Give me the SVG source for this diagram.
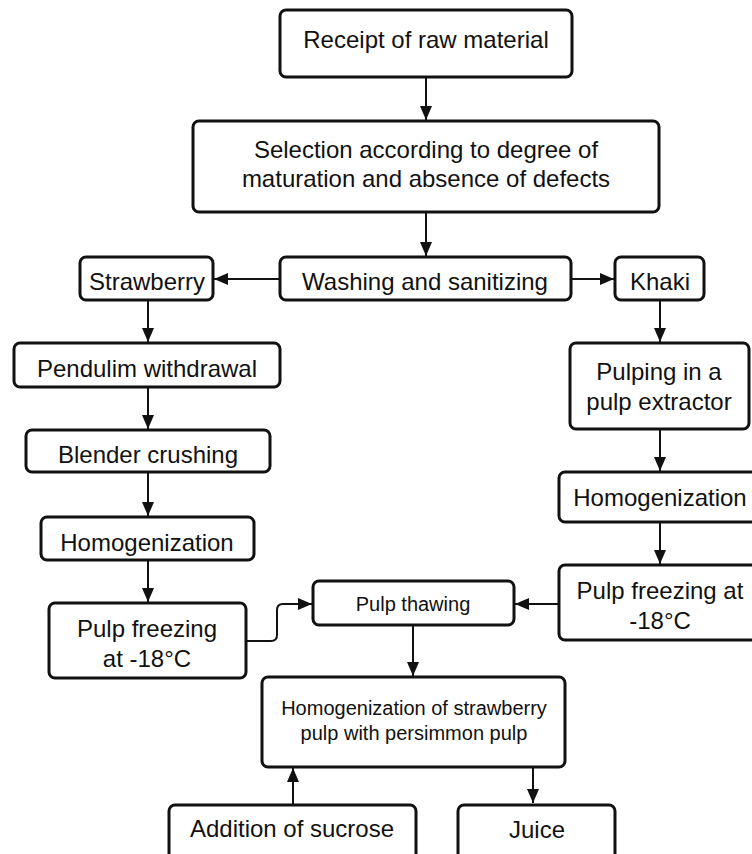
<svg xmlns="http://www.w3.org/2000/svg" width="752" height="854" viewBox="0 0 752 854">
<style>
.box{fill:#fff;stroke:#111;stroke-width:3}
.t{font-family:"Liberation Sans",Arial,sans-serif;font-size:24px;fill:#111;text-anchor:middle}
.s{font-size:20px}
.c{fill:none;stroke:#111;stroke-width:2}
</style>
<defs>
<marker id="ah" markerUnits="userSpaceOnUse" markerWidth="14" markerHeight="12" refX="14" refY="6" orient="auto">
<path d="M0,0 L14,6 L0,12 z" fill="#111"/>
</marker>
</defs>
<rect width="752" height="854" fill="#fff"/>
<g id="connectors">
<path class="c" d="M426,78 V120" marker-end="url(#ah)"/>
<path class="c" d="M426,212 V256" marker-end="url(#ah)"/>
<path class="c" d="M280,279 H214" marker-end="url(#ah)"/>
<path class="c" d="M571,279 H614" marker-end="url(#ah)"/>
<path class="c" d="M148,300 V342" marker-end="url(#ah)"/>
<path class="c" d="M148,387 V429" marker-end="url(#ah)"/>
<path class="c" d="M148,472 V516" marker-end="url(#ah)"/>
<path class="c" d="M148,560 V602" marker-end="url(#ah)"/>
<path class="c" d="M660,300 V342" marker-end="url(#ah)"/>
<path class="c" d="M660,429 V471" marker-end="url(#ah)"/>
<path class="c" d="M660,522 V564" marker-end="url(#ah)"/>
<path class="c" d="M559,604 H515" marker-end="url(#ah)"/>
<path class="c" d="M246,641 H271 Q277,641 277,635 V610 Q277,604 283,604 H312" marker-end="url(#ah)"/>
<path class="c" d="M413,626 V676" marker-end="url(#ah)"/>
<path class="c" d="M293,805 V768" marker-end="url(#ah)"/>
<path class="c" d="M533,767 V803" marker-end="url(#ah)"/>
</g>
<g id="receipt"><rect class="box" x="280" y="10" width="292" height="67" rx="6"/><text class="t" x="426" y="48">Receipt of raw material</text></g>
<g id="selection"><rect class="box" x="193" y="121" width="466" height="91" rx="6"/><text class="t" x="426" y="158">Selection according to degree of</text><text class="t" x="426" y="187">maturation and absence of defects</text></g>
<g id="washing"><rect class="box" x="280" y="257" width="291" height="43" rx="6"/><text class="t" x="425" y="290">Washing and sanitizing</text></g>
<g id="strawberry"><rect class="box" x="80" y="257" width="133" height="43" rx="6"/><text class="t" x="147" y="290">Strawberry</text></g>
<g id="khaki"><rect class="box" x="615" y="257" width="89" height="43" rx="6"/><text class="t" x="660" y="290">Khaki</text></g>
<g id="pendulim"><rect class="box" x="14" y="343" width="266" height="44" rx="6"/><text class="t" x="147" y="377">Pendulim withdrawal</text></g>
<g id="blender"><rect class="box" x="26" y="430" width="244" height="42" rx="6"/><text class="t" x="148" y="463">Blender crushing</text></g>
<g id="homog-left"><rect class="box" x="41" y="517" width="213" height="43" rx="6"/><text class="t" x="147" y="551">Homogenization</text></g>
<g id="freeze-left"><rect class="box" x="49" y="603" width="197" height="75" rx="6"/><text class="t" x="147" y="637">Pulp freezing</text><text class="t" x="147" y="667">at -18°C</text></g>
<g id="pulping"><rect class="box" x="570" y="343" width="179" height="86" rx="6"/><text class="t" x="659" y="380">Pulping in a</text><text class="t" x="659" y="410">pulp extractor</text></g>
<g id="homog-right"><rect class="box" x="559" y="472" width="204" height="50" rx="6"/><text class="t" x="660" y="506">Homogenization</text></g>
<g id="freeze-right"><rect class="box" x="559" y="565" width="204" height="75" rx="6"/><text class="t" x="660" y="599">Pulp freezing at</text><text class="t" x="660" y="629">-18°C</text></g>
<g id="thawing"><rect class="box" x="313" y="581" width="201" height="44" rx="6"/><text class="t s" x="413" y="611">Pulp thawing</text></g>
<g id="homog-mix"><rect class="box" x="262" y="677" width="303" height="90" rx="6"/><text class="t s" x="414" y="715">Homogenization of strawberry</text><text class="t s" x="414" y="740">pulp with persimmon pulp</text></g>
<g id="sucrose"><rect class="box" x="169" y="805" width="247" height="55" rx="6"/><text class="t" x="292" y="837">Addition of sucrose</text></g>
<g id="juice"><rect class="box" x="458" y="805" width="157" height="55" rx="6"/><text class="t" x="537" y="838">Juice</text></g>
</svg>
